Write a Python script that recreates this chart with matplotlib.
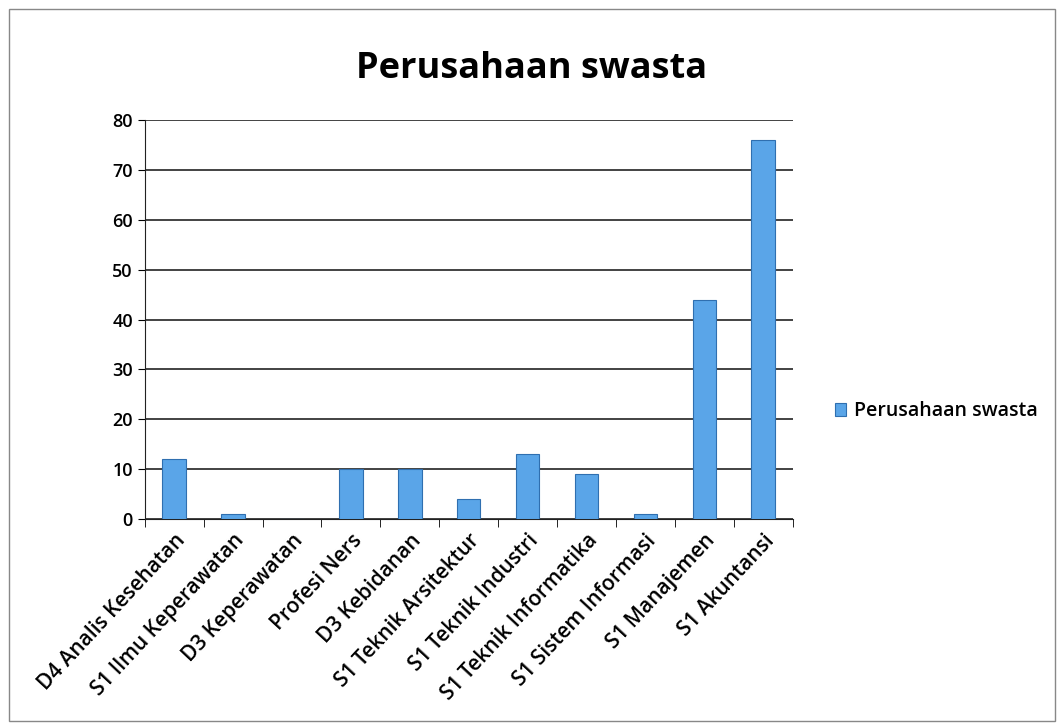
import matplotlib.pyplot as plt
from matplotlib.patches import Rectangle
import numpy as np

categories = ["D4 Analis Kesehatan", "S1 Ilmu Keperawatan", "D3 Keperawatan",
              "Profesi Ners", "D3 Kebidanan", "S1 Teknik Arsitektur",
              "S1 Teknik Industri", "S1 Teknik Informatika", "S1 Sistem Informasi",
              "S1 Manajemen", "S1 Akuntansi"]
values = [12, 1, 0, 10, 10, 4, 13, 9, 1, 44, 76]
series_name = "Perusahaan swasta"

plt.rcParams['font.family'] = ['Open Sans', 'DejaVu Sans']

fig = plt.figure(figsize=(10.64, 7.28), dpi=100)
fig.patches.append(Rectangle((0.008, 0.01), 0.984, 0.978, transform=fig.transFigure,
                             fill=False, edgecolor='#888888', linewidth=1))
ax = fig.add_axes([0.136, 0.287, 0.609, 0.548])

x = np.arange(len(categories))
ax.bar(x, values, width=0.4, color='#5aa5e8', edgecolor='#2f6fb0', linewidth=0.8,
       label=series_name, zorder=3)

ax.set_xlim(-0.5, len(categories) - 0.5)
ax.set_ylim(0, 80)
ax.set_yticks(range(0, 81, 10))
ax.yaxis.grid(True, color='#222222', linewidth=1.2, zorder=0)
ax.tick_params(axis='y', labelsize=13, length=5, direction='out')
for lbl in ax.get_yticklabels():
    lbl.set_fontweight('semibold')

ax.set_xticks(x)
ax.set_xticklabels(categories, rotation=47, ha='right', rotation_mode='anchor',
                   fontsize=15, fontweight='semibold')
ax.tick_params(axis='x', length=0, pad=8)
ax.set_xticks(np.arange(-0.5, len(categories)), minor=True)
ax.tick_params(axis='x', which='minor', length=6, direction='out')

for side in ['top', 'right']:
    ax.spines[side].set_visible(False)
ax.spines['left'].set_color('#222222')
ax.spines['bottom'].set_color('#222222')

fig.suptitle(series_name, fontsize=26, fontweight='bold', y=0.93)
leg = fig.legend(loc='center left', bbox_to_anchor=(0.768, 0.435), frameon=False,
                 prop={'size': 14, 'weight': 'semibold'},
                 handlelength=0.6, handleheight=0.6, handletextpad=0.4)

fig.savefig("out.png", dpi=100)
